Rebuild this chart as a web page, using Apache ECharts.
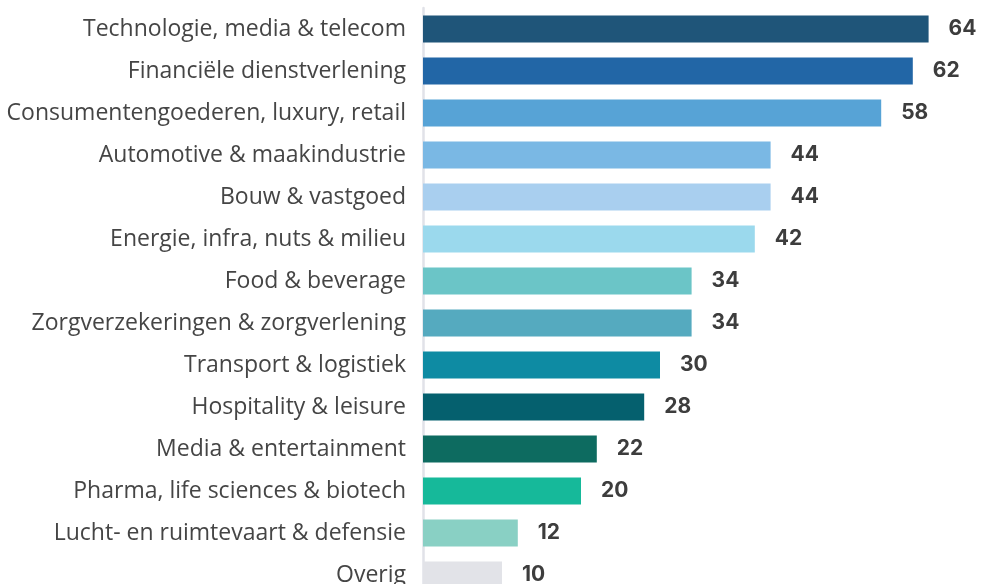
<!DOCTYPE html>
<html>
<head>
<meta charset="utf-8">
<script src="https://cdn.jsdelivr.net/npm/echarts@6/dist/echarts.min.js"></script>
<style>
  html, body { margin: 0; padding: 0; background: #fff; overflow: hidden; }
  #main { width: 982px; height: 600px; }
</style>
</head>
<body>
<div id="main"></div>
<script>
var categories = [
  'Technologie, media & telecom',
  'Financiële dienstverlening',
  'Consumentengoederen, luxury, retail',
  'Automotive & maakindustrie',
  'Bouw & vastgoed',
  'Energie, infra, nuts & milieu',
  'Food & beverage',
  'Zorgverzekeringen & zorgverlening',
  'Transport & logistiek',
  'Hospitality & leisure',
  'Media & entertainment',
  'Pharma, life sciences & biotech',
  'Lucht- en ruimtevaart & defensie',
  'Overig'
];
var values = [64, 62, 58, 44, 44, 42, 34, 34, 30, 28, 22, 20, 12, 10];
var barColors = [
  '#1f5579', '#2266a6', '#57a3d6', '#7ab8e4', '#a9cfef', '#9bd9ed', '#6bc5c7',
  '#55aabf', '#0e8ba3', '#05606e', '#0d6b60', '#16b99a', '#89d0c4', '#e2e3e8'
];

var chart = echarts.init(document.getElementById('main'));

var option = {
  animation: false,
  grid: { left: 423, top: 8, width: 553, height: 588 },
  xAxis: {
    type: 'value', min: 0, max: 70, show: false
  },
  yAxis: {
    type: 'category',
    inverse: true,
    data: categories,
    offset: 1,
    axisLine: { show: true, lineStyle: { color: '#e1e2e8', width: 2.5 } },
    axisTick: { show: false },
    axisLabel: {
      margin: 16,
      color: '#454545',
      fontFamily: 'Open Sans',
      fontSize: 23
    }
  },
  series: [{
    type: 'bar',
    barWidth: 27,
    data: values.map(function (v, i) {
      return { value: v, itemStyle: { color: barColors[i] } };
    }),
    label: {
      show: true,
      position: 'right',
      distance: 20,
      color: '#3d3d3d',
      fontWeight: 'bold',
      fontFamily: 'Inter',
      fontSize: 21
    }
  }]
};

chart.setOption(option);
</script>
</body>
</html>
